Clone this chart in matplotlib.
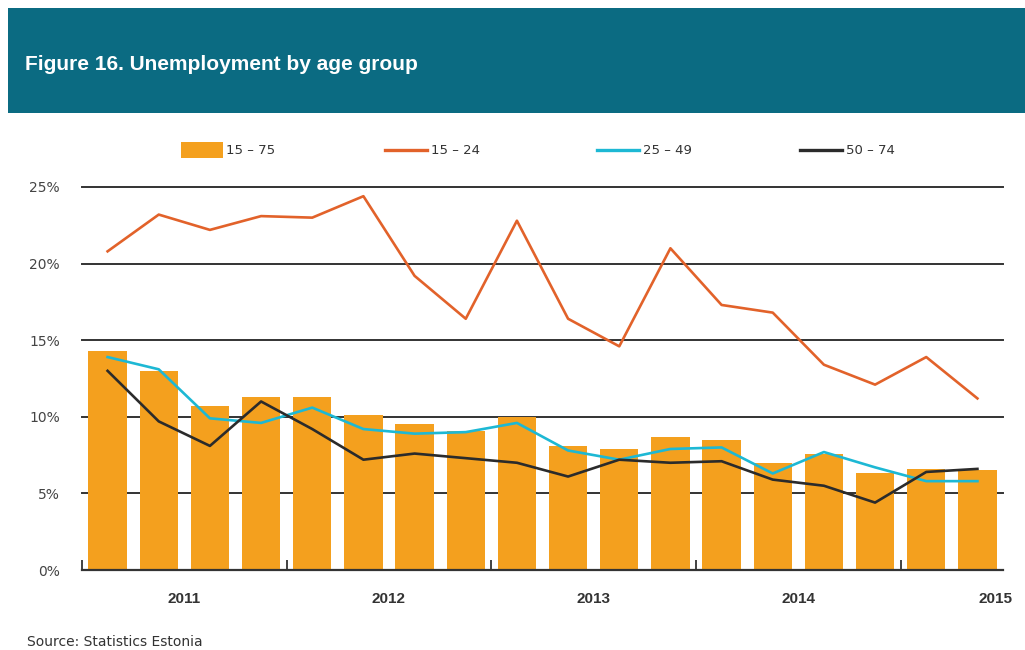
import matplotlib
matplotlib.use("Agg")
import matplotlib.pyplot as plt
from matplotlib.patches import Rectangle
from matplotlib.lines import Line2D
import numpy as np

plt.rcParams['font.family'] = ['Liberation Sans', 'DejaVu Sans']

# Quarterly data 2011 Q1 .. 2015 Q2
quarters = ["2011Q1", "2011Q2", "2011Q3", "2011Q4",
            "2012Q1", "2012Q2", "2012Q3", "2012Q4",
            "2013Q1", "2013Q2", "2013Q3", "2013Q4",
            "2014Q1", "2014Q2", "2014Q3", "2014Q4",
            "2015Q1", "2015Q2"]
age_15_75 = [14.3, 13.0, 10.7, 11.3, 11.3, 10.1, 9.5, 9.1, 10.0, 8.1, 7.9, 8.7,
             8.5, 7.0, 7.6, 6.3, 6.6, 6.5]
age_15_24 = [20.8, 23.2, 22.2, 23.1, 23.0, 24.4, 19.2, 16.4, 22.8, 16.4, 14.6, 21.0,
             17.3, 16.8, 13.4, 12.1, 13.9, 11.2]
age_25_49 = [13.9, 13.1, 9.9, 9.6, 10.6, 9.2, 8.9, 9.0, 9.6, 7.8, 7.2, 7.9,
             8.0, 6.3, 7.7, 6.7, 5.8, 5.8]
age_50_74 = [13.0, 9.7, 8.1, 11.0, 9.2, 7.2, 7.6, 7.3, 7.0, 6.1, 7.2, 7.0,
             7.1, 5.9, 5.5, 4.4, 6.4, 6.6]
year_labels = ["2011", "2012", "2013", "2014", "2015"]
y_ticks = [0, 5, 10, 15, 20, 25]
y_ticklabels = ["0%", "5%", "10%", "15%", "20%", "25%"]

C_BAR = "#F4A01E"
C_1524 = "#E2622A"
C_2549 = "#1DB8D4"
C_5074 = "#2B2B2B"
C_HEAD = "#0B6B82"
C_TEXT = "#333333"

fig = plt.figure(figsize=(10.25, 6.5), dpi=100)
W, H = 1025, 650

# header band
fig.add_artist(Rectangle((8 / W, 1 - 113 / H), 1 - 8 / W, 105 / H,
                         transform=fig.transFigure, facecolor=C_HEAD,
                         edgecolor="none", zorder=0))
fig.text(25 / W, 1 - 64 / H, "Figure 16. Unemployment by age group",
         color="white", fontsize=15, fontweight="bold", va="center", ha="left")

ax = fig.add_axes([82 / W, 1 - 570 / H, (1003 - 82) / W, (570 - 187) / H])
x = np.arange(len(quarters)) + 0.5

ax.bar(x, age_15_75, width=0.75, color=C_BAR, zorder=2)
ax.plot(x, age_15_24, color=C_1524, lw=1.9, zorder=3)
ax.plot(x, age_25_49, color=C_2549, lw=1.9, zorder=4)
ax.plot(x, age_50_74, color=C_5074, lw=1.9, zorder=5)

ax.set_xlim(0, len(quarters))
ax.set_ylim(0, 25)
for yv in y_ticks[1:]:
    ax.axhline(yv, color=C_TEXT, lw=1.4, zorder=1, clip_on=False)

for s in ["left", "right", "top"]:
    ax.spines[s].set_visible(False)
ax.spines["bottom"].set_color(C_TEXT)
ax.spines["bottom"].set_linewidth(1.6)
ax.spines["bottom"].set_zorder(6)

ax.set_yticks(y_ticks)
ax.set_yticklabels(y_ticklabels, fontsize=10, color="#444444", family="DejaVu Sans")
ax.tick_params(axis="y", length=0, pad=16)

ax.set_xticks([0, 4, 8, 12, 16])
ax.set_xticklabels([])
ax.tick_params(axis="x", direction="in", length=7, width=1.3, color=C_TEXT)

year_pos = [2, 6, 10, 14, 17.85]
for xp, lab in zip(year_pos, year_labels):
    ax.text(xp, -1.9, lab, ha="center", va="center", fontsize=11,
            fontweight="bold", color=C_TEXT, clip_on=False)

# legend (manual)
ly = 1 - 150 / H
fig.add_artist(Rectangle((181 / W, ly - 7.5 / H), 42 / W, 15 / H,
                         transform=fig.transFigure, facecolor=C_BAR, edgecolor="none"))
fig.text(226 / W, ly, "15 – 75", fontsize=9.5, color=C_TEXT, va="center",
         family="DejaVu Sans")
for x0, col, lab in [(385, C_1524, "15 – 24"), (597, C_2549, "25 – 49"), (800, C_5074, "50 – 74")]:
    fig.add_artist(Line2D([x0 / W, (x0 + 42) / W], [ly, ly], transform=fig.transFigure,
                          color=col, lw=2.4))
    fig.text((x0 + 46) / W, ly, lab, fontsize=9.5, color=C_TEXT, va="center",
             family="DejaVu Sans")

fig.text(27 / W, 1 - 642 / H, "Source: Statistics Estonia", fontsize=10,
         color=C_TEXT, va="center", family="DejaVu Sans")

fig.savefig("out.png", dpi=100, facecolor="white")
